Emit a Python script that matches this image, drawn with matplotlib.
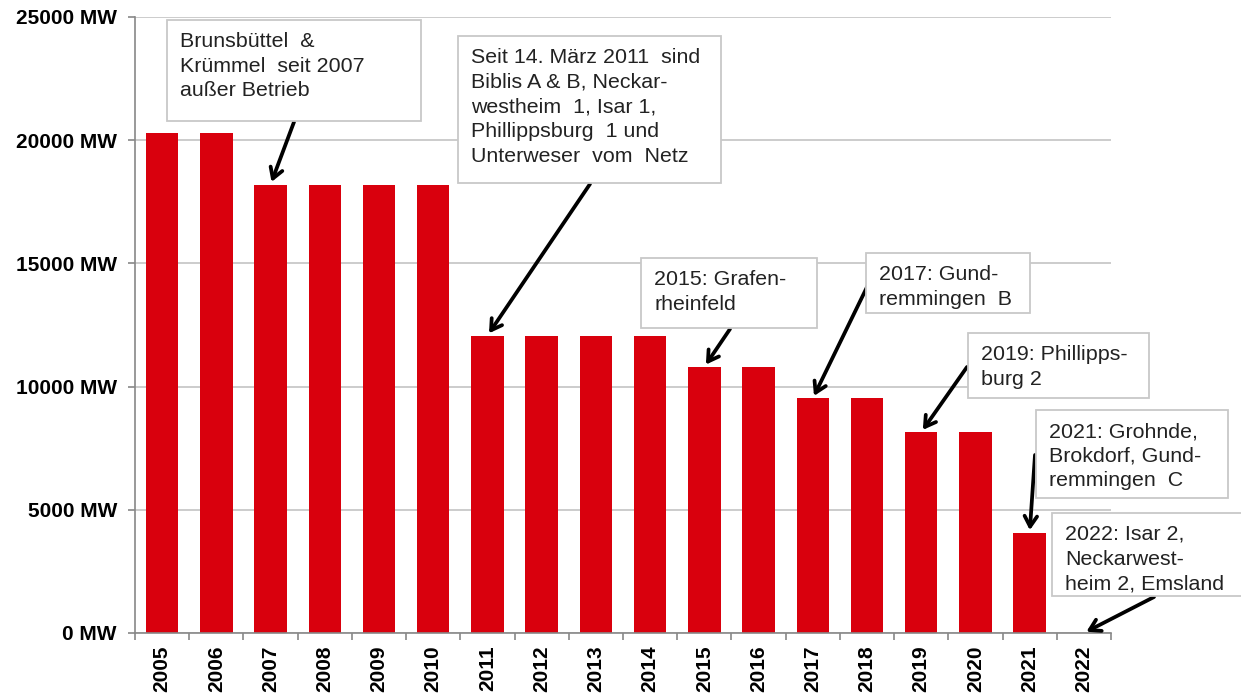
import matplotlib
matplotlib.use("Agg")
import matplotlib.pyplot as plt
from matplotlib.patches import Rectangle

plt.rcParams['font.family'] = ['Liberation Sans', 'DejaVu Sans']

# Kraftwerksleistung der deutschen Kernkraftwerke
jahre = ['2005', '2006', '2007', '2008', '2009', '2010', '2011', '2012', '2013',
         '2014', '2015', '2016', '2017', '2018', '2019', '2020', '2021', '2022']
leistung = [20300, 20300, 18200, 18200, 18200, 18200, 12070, 12070, 12070,
            12070, 10800, 10800, 9520, 9520, 8150, 8150, 4060, 0]
y_ticks = [0, 5000, 10000, 15000, 20000, 25000]

# Hinweise: Text, Jahr auf das der Pfeil zeigt, Box (links, oben, rechts, unten) in Pixeln, Pfeilstart
hinweise = [
    ("Brunsbüttel  &\nKrümmel  seit 2007\naußer Betrieb", '2007', (167, 20, 421, 121), (294, 122)),
    ("Seit 14. März 2011  sind\nBiblis A & B, Neckar-\nwestheim  1, Isar 1,\nPhillippsburg  1 und\nUnterweser  vom  Netz",
     '2011', (458, 36, 721, 183), (590, 184)),
    ("2015: Grafen-\nrheinfeld", '2015', (641, 258, 817, 328), (730, 329)),
    ("2017: Gund-\nremmingen  B", '2017', (866, 253, 1030, 313), (868, 285)),
    ("2019: Phillipps-\nburg 2", '2019', (968, 333, 1149, 398), (967, 367)),
    ("2021: Grohnde,\nBrokdorf, Gund-\nremmingen  C", '2021', (1036, 410, 1228, 498), (1035, 455)),
    ("2022: Isar 2,\nNeckarwest-\nheim 2, Emsland", '2022', (1052, 513, 1245, 596), (1154, 597)),
]

W, H = 1241, 697
fig = plt.figure(figsize=(W / 100, H / 100), dpi=100)
ax = fig.add_axes([135 / W, 1 - 633 / H, (1111 - 135) / W, (633 - 17) / H])

x = range(len(jahre))
ax.bar(x, leistung, width=0.6, color='#d9000d', zorder=2)

ax.set_xlim(-0.5, len(jahre) - 0.5)
ax.set_ylim(0, 25000)
ax.set_yticks(y_ticks)
ax.set_yticklabels([f'{v} MW' for v in y_ticks], fontsize=15, fontweight='bold')
ax.set_xticks(list(x))
ax.set_xticklabels(jahre, rotation=90, fontsize=15, fontweight='bold')
ax.set_xticks([i - 0.5 for i in range(len(jahre) + 1)], minor=True)
ax.tick_params(axis='x', which='major', length=0, pad=9)
ax.tick_params(axis='x', which='minor', length=5, color='#888888', width=1.2)
ax.tick_params(axis='y', length=5, color='#888888', width=1.2, pad=8)
ax.grid(axis='y', color='#c4c4c4', linewidth=1.2, zorder=0)
ax.set_axisbelow(True)
for s in ['top', 'right']:
    ax.spines[s].set_visible(False)
for s in ['left', 'bottom']:
    ax.spines[s].set_color('#888888')
    ax.spines[s].set_linewidth(1.2)

for text, jahr, (l, t, r, b), (sx, sy) in hinweise:
    rect = Rectangle((l / W, 1 - b / H), (r - l) / W, (b - t) / H, transform=fig.transFigure,
                     facecolor='white', edgecolor='#c8c8c8', linewidth=1.3, zorder=5)
    fig.patches.append(rect)
    fig.text((l + 13) / W, 1 - (t + 12) / H, text, ha='left', va='top', fontsize=15.4,
             color='#222222', linespacing=1.38, zorder=6)
    i = jahre.index(jahr)
    ax.annotate('', xy=(i, leistung[i]), xycoords='data',
                xytext=(sx, H - sy), textcoords='figure pixels',
                arrowprops=dict(arrowstyle='->,head_length=0.75,head_width=0.45',
                                color='black', lw=2.7, shrinkA=0, shrinkB=2),
                zorder=7, annotation_clip=False)

fig.savefig('out.png', dpi=100)
